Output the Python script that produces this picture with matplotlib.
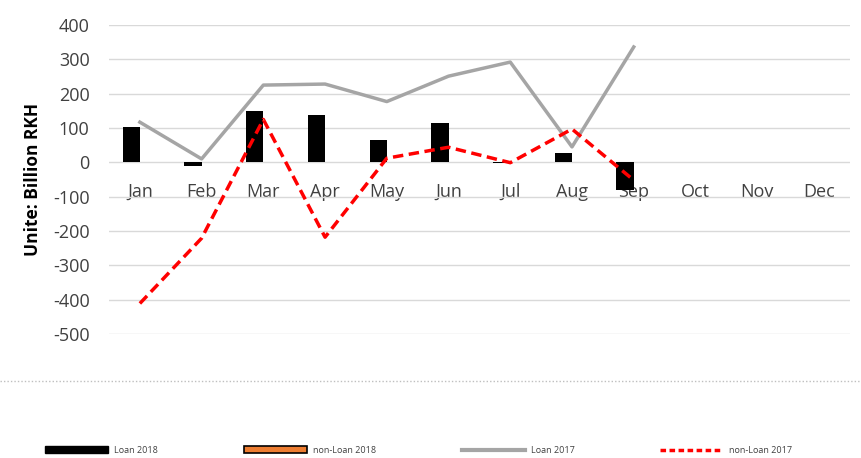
import numpy as np
import matplotlib
matplotlib.use("Agg")
import matplotlib.pyplot as plt
import matplotlib.lines
import matplotlib.patches

months = ['Jan', 'Feb', 'Mar', 'Apr', 'May', 'Jun', 'Jul', 'Aug', 'Sep', 'Oct', 'Nov', 'Dec']
loan_2018 = [103, -12, 150, 137, 65, 114, -3, 26, -81]
non_loan_2018 = [0, 0, 0, 0, 0, 0, 0, 0, 0]
loan_2017 = [117, 10, 225, 228, 177, 251, 292, 45, 336]
non_loan_2017 = [-411, -221, 125, -218, 12, 44, -1, 97, -52]
yticks = [400, 300, 200, 100, 0, -100, -200, -300, -400, -500]

plt.rcParams['font.family'] = ['Open Sans', 'DejaVu Sans']
plt.rcParams['axes.unicode_minus'] = False

fig = plt.figure(figsize=(8.61, 4.58), dpi=100)
ax = fig.add_axes([0.1266, 0.2707, 0.8604, 0.6747])

x = np.arange(len(months))
w = 0.28
n = len(loan_2018)
ax.bar(x[:n] - w / 2, loan_2018, w, color='black', zorder=2)
# non-loan 2018 is all zero: draw the bars with no edge so nothing shows
ax.bar(x[:n] + w / 2, non_loan_2018, w, color='#ED7D31', linewidth=0, zorder=2)
l1, = ax.plot(x[:n], loan_2017, color='#A5A5A5', lw=2.5, zorder=3)
l2, = ax.plot(x[:n], non_loan_2017, color='#FF0000', lw=2.5, dashes=(3, 1.6), zorder=4)

ax.set_xlim(-0.5, len(months) - 0.5)
ax.set_ylim(-500, 400)
ax.set_yticks(yticks)
ax.set_xticks(x)
ax.set_xticklabels(months)
ax.grid(axis='y', color='#D9D9D9', lw=1, zorder=0)
ax.set_axisbelow(True)
for s in ax.spines.values():
    s.set_visible(False)
ax.spines['bottom'].set_position(('data', 0))
ax.tick_params(axis='both', length=0, labelsize=13, colors='#404040')
ax.tick_params(axis='x', pad=15)
ax.tick_params(axis='y', pad=14)
ax.set_ylabel('Unite: Billion RKH', fontsize=12.5, fontweight='bold', color='black', labelpad=8)

# dotted separator between plot and legend
fig.add_artist(matplotlib.lines.Line2D([0, 1], [1 - 381 / 458, 1 - 381 / 458],
                                       color='#BFBFBF', lw=1, ls=(0, (1, 1.5))))

h_loan18 = matplotlib.patches.Patch(facecolor='black', edgecolor='black')
h_nonloan18 = matplotlib.patches.Patch(facecolor='#ED7D31', edgecolor='black', linewidth=1.2)
h_loan17 = matplotlib.lines.Line2D([], [], color='#A5A5A5', lw=3)
h_nonloan17 = matplotlib.lines.Line2D([], [], color='#FF0000', lw=2.5, dashes=(1.6, 1))
fig.legend([h_loan18, h_nonloan18, h_loan17, h_nonloan17],
           ['Loan 2018', 'non-Loan 2018', 'Loan 2017', 'non-Loan 2017'],
           loc='center left', bbox_to_anchor=(45 / 861, 0.017), ncol=4, frameon=False,
           borderpad=0, borderaxespad=0,
           fontsize=6.5, handlelength=7.0, handleheight=0.7, columnspacing=9.5,
           handletextpad=0.65, labelcolor='#404040')

fig.savefig('out.png', dpi=100)
